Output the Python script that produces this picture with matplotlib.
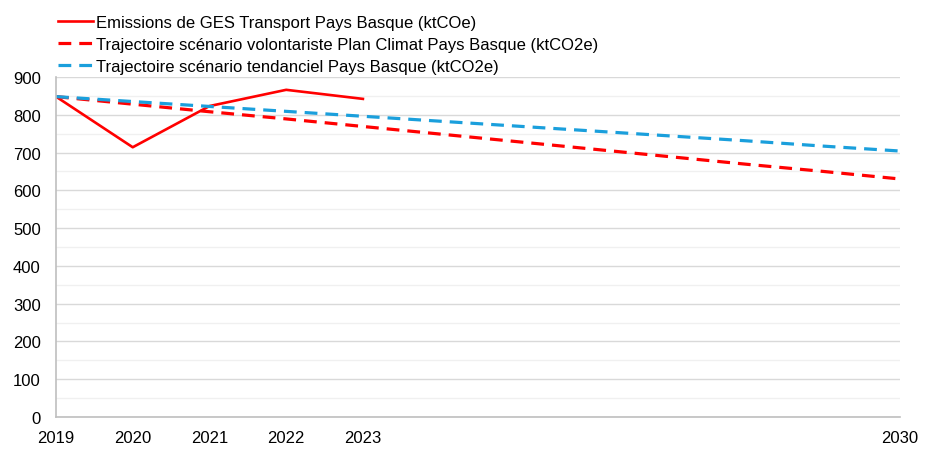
import matplotlib.pyplot as plt
from matplotlib.ticker import MultipleLocator

plt.rcParams['font.family'] = ['Liberation Sans', 'DejaVu Sans']

annees = list(range(2019, 2031))
annees_reel = [2019, 2020, 2021, 2022, 2023]
emissions = [848, 714, 823, 866, 842]
volontariste = [848, 828, 808, 789, 769, 749, 729, 709, 689, 669, 650, 630]
tendanciel = [848, 835, 822, 809, 796, 783, 770, 757, 744, 731, 717, 704]
ticks_x = [2019, 2020, 2021, 2022, 2023, 2030]

fig = plt.figure(figsize=(9.38, 4.56), dpi=100)
ax = fig.add_axes([0.0597, 0.0833, 0.8998, 0.7457])

l1, = ax.plot(annees_reel, emissions, color='#ff0000', lw=1.9,
              label="Emissions de GES Transport Pays Basque (ktCOe)")
l2, = ax.plot(annees, volontariste, color='#ff0000', lw=2.3, ls=(0, (4, 2.5)),
              label="Trajectoire scénario volontariste Plan Climat Pays Basque (ktCO2e)")
l3, = ax.plot(annees, tendanciel, color='#1a9fdc', lw=2.3, ls=(0, (4, 2.5)),
              label="Trajectoire scénario tendanciel Pays Basque (ktCO2e)")

ax.set_xlim(2019, 2030)
ax.set_ylim(0, 900)
ax.set_xticks(ticks_x)
ax.set_xticklabels([str(t) for t in ticks_x])
ax.yaxis.set_major_locator(MultipleLocator(100))
ax.yaxis.set_minor_locator(MultipleLocator(50))
ax.grid(which='major', axis='y', color='#d9d9d9', lw=1)
ax.grid(which='minor', axis='y', color='#f0f0f0', lw=1)
ax.set_axisbelow(True)
ax.tick_params(axis='both', which='both', length=0, labelsize=12, colors='#000000')
ax.tick_params(axis='x', pad=9)
ax.tick_params(axis='y', pad=11)
for s in ['top', 'right']:
    ax.spines[s].set_visible(False)
for s in ['left', 'bottom']:
    ax.spines[s].set_color('#bfbfbf')
    ax.spines[s].set_linewidth(1.2)

fig.legend(handles=[l1, l2, l3], loc='upper left', bbox_to_anchor=(0.049, 0.99),
           frameon=False, fontsize=12, handlelength=2.1, handletextpad=0.2,
           labelspacing=0.42, borderaxespad=0.3)

fig.savefig('out.png', dpi=100)
